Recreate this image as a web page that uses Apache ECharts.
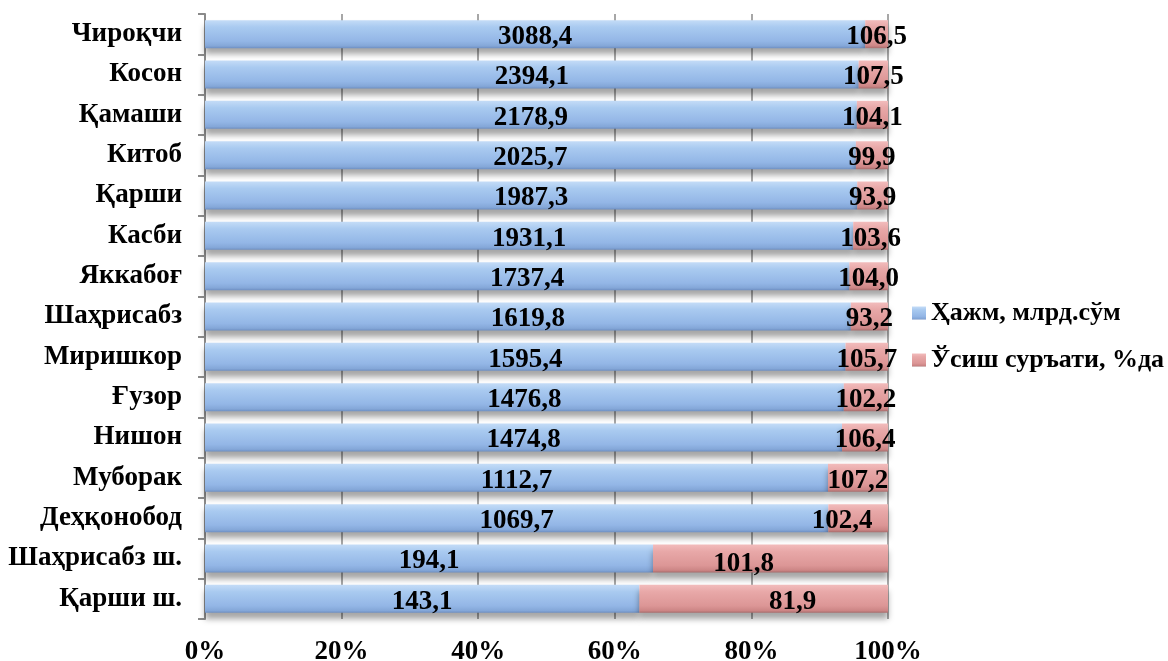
<!DOCTYPE html>
<html>
<head>
<meta charset="utf-8">
<script src="https://cdn.jsdelivr.net/npm/echarts@6/dist/echarts.min.js"></script>
<style>
html,body{margin:0;padding:0;background:#fff;}
#c{width:1168px;height:661px;}
</style>
</head>
<body>
<div id="c"></div>
<script>
const categories = ["Чироқчи","Косон","Қамаши","Китоб","Қарши","Касби","Яккабоғ","Шаҳрисабз","Миришкор","Ғузор","Нишон","Муборак","Деҳқонобод","Шаҳрисабз ш.","Қарши ш."];
const volume = [3088.4,2394.1,2178.9,2025.7,1987.3,1931.1,1737.4,1619.8,1595.4,1476.8,1474.8,1112.7,1069.7,194.1,143.1];
const growth = [106.5,107.5,104.1,99.9,93.9,103.6,104.0,93.2,105.7,102.2,106.4,107.2,102.4,101.8,81.9];
const seriesNames = ["Ҳажм, млрд.сўм","Ўсиш суръати, %да"];
const xTicks = [0,20,40,60,80,100];

const FONT = "'Liberation Serif','Times New Roman',serif";
const fmt = v => v.toFixed(1).replace('.', ',');
const totals = volume.map((v,i)=>v+growth[i]);
const pctVol = volume.map((v,i)=>v/totals[i]*100);
const pctGr = growth.map((v,i)=>v/totals[i]*100);

// manual label nudges (as in the reference) for a few growth labels
const growthLabelNudge = {12:[-16,3], 13:[-27,6], 14:[29,3]};

const blue = new echarts.graphic.LinearGradient(0,0,0,1,[
  {offset:0,color:'#c4dcf7'},{offset:0.25,color:'#a9caf0'},{offset:0.75,color:'#93b6e6'},{offset:0.92,color:'#84a7d8'},{offset:1,color:'#6e8fc2'}]);
const pink = new echarts.graphic.LinearGradient(0,0,0,1,[
  {offset:0,color:'#f2bcbc'},{offset:0.25,color:'#e8a8a8'},{offset:0.75,color:'#dc9696'},{offset:0.92,color:'#cc8585'},{offset:1,color:'#a86c6c'}]);

const labelStyle = {show:true, position:'inside', color:'#000', fontFamily:FONT, fontWeight:'bold', fontSize:27, offset:[0,3]};

const chart = echarts.init(document.getElementById('c'));
chart.setOption({
  animation:false,
  grid:{left:205, right:280, top:14, bottom:42, containLabel:false, outerBoundsMode:'none'},
  legend:{
    orient:'vertical', left:907, top:295, itemGap:21, itemWidth:14, itemHeight:13,
    icon:'rect',
    textStyle:{fontFamily:FONT, fontWeight:'bold', fontSize:26, color:'#000'},
    data:seriesNames
  },
  xAxis:{
    type:'value', min:0, max:100, interval:20,
    axisLine:{show:false}, axisTick:{show:false},
    splitLine:{show:true, lineStyle:{color:'#8a8a8a', width:1.5}},
    axisLabel:{formatter:v=>xTicks.includes(v)? v+'%' : '', fontFamily:FONT, fontWeight:'bold', fontSize:27, color:'#000', margin:20}
  },
  yAxis:{
    type:'category', inverse:true, data:categories,
    axisLine:{show:true, lineStyle:{color:'#8a8a8a', width:2}},
    axisTick:{show:true, length:7, lineStyle:{color:'#8a8a8a', width:2}},
    axisLabel:{fontFamily:FONT, fontWeight:'bold', fontSize:27, color:'#000', margin:23}
  },
  series:[
    {name:seriesNames[0], type:'bar', stack:'t', barWidth:28,
     data:pctVol,
     itemStyle:{color:blue, shadowColor:'rgba(0,0,0,0.35)', shadowBlur:6, shadowOffsetY:6},
     label:Object.assign({}, labelStyle, {formatter:p=>fmt(volume[p.dataIndex])})
    },
    {name:seriesNames[1], type:'bar', stack:'t', barWidth:28,
     data:pctGr.map((p,i)=> growthLabelNudge[i] ? {value:p, label:{offset:growthLabelNudge[i]}} : p),
     itemStyle:{color:pink, shadowColor:'rgba(0,0,0,0.35)', shadowBlur:6, shadowOffsetY:6},
     label:Object.assign({}, labelStyle, {formatter:p=>fmt(growth[p.dataIndex])})
    }
  ]
});
</script>
</body>
</html>
